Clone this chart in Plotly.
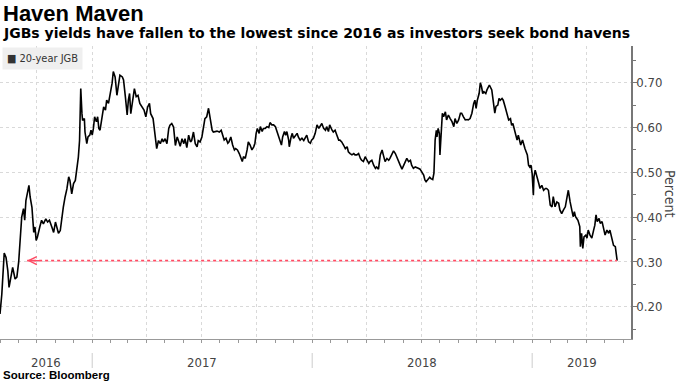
import plotly.graph_objects as go
from datetime import date

# ---------------- data ----------------
dates = [
    "2016-08-01", "2016-08-04", "2016-08-08", "2016-08-11", "2016-08-14", "2016-08-16", "2016-08-20",
    "2016-08-22", "2016-08-26", "2016-08-29", "2016-09-01", "2016-09-04", "2016-09-06", "2016-09-09",
    "2016-09-11", "2016-09-13", "2016-09-16", "2016-09-18", "2016-09-20", "2016-09-23", "2016-09-26",
    "2016-09-28", "2016-09-30", "2016-10-02", "2016-10-06", "2016-10-09", "2016-10-12", "2016-10-16",
    "2016-10-19", "2016-10-22", "2016-10-26", "2016-10-29", "2016-11-01", "2016-11-03", "2016-11-06",
    "2016-11-09", "2016-11-12", "2016-11-14", "2016-11-17", "2016-11-20", "2016-11-23", "2016-11-25",
    "2016-11-28", "2016-12-01", "2016-12-04", "2016-12-07", "2016-12-09", "2016-12-11", "2016-12-12",
    "2016-12-13", "2016-12-15", "2016-12-16", "2016-12-19", "2016-12-20", "2016-12-23", "2016-12-25",
    "2016-12-28", "2016-12-30", "2017-01-01", "2017-01-03", "2017-01-05", "2017-01-08", "2017-01-10",
    "2017-01-12", "2017-01-14", "2017-01-17", "2017-01-20", "2017-01-23", "2017-01-25", "2017-01-28",
    "2017-01-31", "2017-02-03", "2017-02-05", "2017-02-08", "2017-02-11", "2017-02-14", "2017-02-16",
    "2017-02-20", "2017-02-22", "2017-02-25", "2017-02-28", "2017-03-02", "2017-03-04", "2017-03-06",
    "2017-03-10", "2017-03-12", "2017-03-15", "2017-03-18", "2017-03-21", "2017-03-24", "2017-03-28",
    "2017-03-31", "2017-04-03", "2017-04-06", "2017-04-08", "2017-04-12", "2017-04-14", "2017-04-17",
    "2017-04-18", "2017-04-21", "2017-04-24", "2017-04-27", "2017-04-29", "2017-05-02", "2017-05-05",
    "2017-05-08", "2017-05-10", "2017-05-13", "2017-05-16", "2017-05-19", "2017-05-22", "2017-05-24",
    "2017-05-27", "2017-05-30", "2017-06-02", "2017-06-04", "2017-06-07", "2017-06-10", "2017-06-13",
    "2017-06-15", "2017-06-18", "2017-06-21", "2017-06-24", "2017-06-26", "2017-06-29", "2017-07-02",
    "2017-07-05", "2017-07-07", "2017-07-10", "2017-07-13", "2017-07-19", "2017-07-21", "2017-07-27",
    "2017-07-31", "2017-08-03", "2017-08-06", "2017-08-08", "2017-08-11", "2017-08-14", "2017-08-16",
    "2017-08-19", "2017-08-22", "2017-08-25", "2017-08-27", "2017-08-30", "2017-09-02", "2017-09-05",
    "2017-09-07", "2017-09-09", "2017-09-12", "2017-09-15", "2017-09-17", "2017-09-20", "2017-09-23",
    "2017-09-26", "2017-09-28", "2017-09-30", "2017-10-02", "2017-10-05", "2017-10-07", "2017-10-10",
    "2017-10-12", "2017-10-15", "2017-10-18", "2017-10-21", "2017-10-23", "2017-10-26", "2017-10-29",
    "2017-11-01", "2017-11-03", "2017-11-06", "2017-11-09", "2017-11-11", "2017-11-13", "2017-11-16",
    "2017-11-18", "2017-11-20", "2017-11-23", "2017-11-24", "2017-11-27", "2017-11-29", "2017-12-01",
    "2017-12-04", "2017-12-07", "2017-12-09", "2017-12-12", "2017-12-15", "2017-12-18", "2017-12-20",
    "2017-12-23", "2017-12-26", "2017-12-29", "2017-12-31", "2018-01-03", "2018-01-06", "2018-01-09",
    "2018-01-12", "2018-01-14", "2018-01-17", "2018-01-20", "2018-01-23", "2018-01-25", "2018-01-28",
    "2018-01-30", "2018-02-01", "2018-02-03", "2018-02-05", "2018-02-08", "2018-02-11", "2018-02-14",
    "2018-02-16", "2018-02-19", "2018-02-22", "2018-02-25", "2018-02-28", "2018-03-02", "2018-03-05",
    "2018-03-08", "2018-03-11", "2018-03-13", "2018-03-16", "2018-03-19", "2018-03-22", "2018-03-24",
    "2018-03-27", "2018-03-30", "2018-04-02", "2018-04-05", "2018-04-07", "2018-04-10", "2018-04-13",
    "2018-04-16", "2018-04-18", "2018-04-21", "2018-04-24", "2018-04-27", "2018-04-29", "2018-05-02",
    "2018-05-05", "2018-05-08", "2018-05-10", "2018-05-13", "2018-05-16", "2018-05-19", "2018-05-22",
    "2018-05-24", "2018-05-27", "2018-05-30", "2018-06-02", "2018-06-04", "2018-06-07", "2018-06-10",
    "2018-06-13", "2018-06-15", "2018-06-18", "2018-06-21", "2018-06-24", "2018-06-26", "2018-06-29",
    "2018-07-02", "2018-07-05", "2018-07-07", "2018-07-09", "2018-07-12", "2018-07-15", "2018-07-17",
    "2018-07-20", "2018-07-22", "2018-07-24", "2018-07-26", "2018-07-27", "2018-07-29", "2018-07-31",
    "2018-08-01", "2018-08-03", "2018-08-05", "2018-08-07", "2018-08-10", "2018-08-12", "2018-08-15",
    "2018-08-18", "2018-08-21", "2018-08-24", "2018-08-26", "2018-08-29", "2018-09-01", "2018-09-04",
    "2018-09-06", "2018-09-09", "2018-09-12", "2018-09-15", "2018-09-17", "2018-09-20", "2018-09-23",
    "2018-09-26", "2018-09-28", "2018-09-30", "2018-10-02", "2018-10-05", "2018-10-07", "2018-10-09",
    "2018-10-11", "2018-10-13", "2018-10-16", "2018-10-18", "2018-10-22", "2018-10-26", "2018-10-29",
    "2018-10-31", "2018-11-02", "2018-11-05", "2018-11-07", "2018-11-09", "2018-11-12", "2018-11-14",
    "2018-11-17", "2018-11-19", "2018-11-21", "2018-11-23", "2018-11-26", "2018-11-28", "2018-11-30",
    "2018-12-02", "2018-12-04", "2018-12-07", "2018-12-09", "2018-12-11", "2018-12-13", "2018-12-16",
    "2018-12-18", "2018-12-20", "2018-12-22", "2018-12-24", "2018-12-26", "2018-12-28", "2018-12-30",
    "2019-01-01", "2019-01-03", "2019-01-04", "2019-01-06", "2019-01-09", "2019-01-12", "2019-01-14",
    "2019-01-17", "2019-01-20", "2019-01-23", "2019-01-25", "2019-01-28", "2019-01-31", "2019-02-03",
    "2019-02-05", "2019-02-08", "2019-02-11", "2019-02-14", "2019-02-16", "2019-02-19", "2019-02-22",
    "2019-02-25", "2019-02-28", "2019-03-02", "2019-03-05", "2019-03-08", "2019-03-10", "2019-03-12",
    "2019-03-14", "2019-03-16", "2019-03-18", "2019-03-21", "2019-03-22", "2019-03-24", "2019-03-26",
    "2019-03-28", "2019-03-31", "2019-04-02", "2019-04-04", "2019-04-07", "2019-04-10", "2019-04-13",
    "2019-04-15", "2019-04-17", "2019-04-19", "2019-04-22", "2019-04-24", "2019-04-27", "2019-04-29",
    "2019-05-02", "2019-05-05", "2019-05-08", "2019-05-10", "2019-05-13", "2019-05-16", "2019-05-19",
    "2019-05-22",
]

yields = [
    0.184, 0.228, 0.320, 0.310, 0.280, 0.243, 0.273,
    0.288, 0.262, 0.266, 0.300, 0.348, 0.400, 0.419,
    0.393, 0.437, 0.460, 0.471, 0.445, 0.422, 0.366,
    0.378, 0.348, 0.355, 0.378, 0.393, 0.385, 0.396,
    0.389, 0.393, 0.378, 0.366, 0.389, 0.378, 0.364,
    0.370, 0.404, 0.422, 0.445, 0.463, 0.490, 0.482,
    0.452, 0.475, 0.482, 0.512, 0.534, 0.571, 0.646,
    0.687, 0.631, 0.616, 0.620, 0.590, 0.564, 0.579,
    0.583, 0.594, 0.583, 0.598, 0.624, 0.613, 0.624,
    0.598, 0.594, 0.616, 0.646, 0.639, 0.661, 0.654,
    0.676, 0.699, 0.725, 0.713, 0.672, 0.699, 0.717,
    0.713, 0.706, 0.669, 0.628, 0.661, 0.676, 0.631,
    0.676, 0.687, 0.669, 0.672, 0.654, 0.646, 0.639,
    0.624, 0.646, 0.654, 0.631, 0.620, 0.594, 0.571,
    0.553, 0.571, 0.564, 0.575, 0.568, 0.575, 0.564,
    0.598, 0.605, 0.609, 0.601, 0.560, 0.579, 0.571,
    0.558, 0.575, 0.564, 0.575, 0.555, 0.583, 0.568,
    0.571, 0.590, 0.564, 0.557, 0.571, 0.568, 0.579,
    0.601, 0.620, 0.624, 0.643, 0.594, 0.590, 0.592,
    0.590, 0.594, 0.583, 0.572, 0.576, 0.565, 0.568,
    0.579, 0.561, 0.550, 0.553, 0.550, 0.542, 0.531,
    0.524, 0.535, 0.531, 0.550, 0.568, 0.561, 0.550,
    0.557, 0.565, 0.587, 0.598, 0.587, 0.602, 0.591,
    0.598, 0.598, 0.602, 0.600, 0.611, 0.606, 0.606,
    0.602, 0.594, 0.583, 0.572, 0.561, 0.579, 0.591,
    0.583, 0.591, 0.572, 0.557, 0.579, 0.587, 0.576,
    0.583, 0.587, 0.579, 0.572, 0.576, 0.571, 0.576,
    0.583, 0.568, 0.565, 0.572, 0.576, 0.587, 0.606,
    0.598, 0.602, 0.609, 0.598, 0.594, 0.602, 0.591,
    0.606, 0.598, 0.594, 0.590, 0.594, 0.583, 0.572,
    0.572, 0.568, 0.561, 0.553, 0.557, 0.546, 0.542,
    0.539, 0.542, 0.539, 0.539, 0.542, 0.531, 0.527,
    0.524, 0.535, 0.527, 0.520, 0.524, 0.527, 0.516,
    0.509, 0.512, 0.507, 0.539, 0.550, 0.539, 0.524,
    0.531, 0.527, 0.531, 0.539, 0.548, 0.542, 0.531,
    0.524, 0.516, 0.507, 0.516, 0.524, 0.531, 0.524,
    0.527, 0.516, 0.509, 0.512, 0.509, 0.509, 0.507,
    0.501, 0.494, 0.483, 0.479, 0.484, 0.489, 0.486,
    0.484, 0.498, 0.572, 0.594, 0.579, 0.598, 0.587,
    0.539, 0.606, 0.632, 0.624, 0.635, 0.617, 0.628,
    0.620, 0.613, 0.602, 0.620, 0.609, 0.617, 0.632,
    0.632, 0.624, 0.617, 0.618, 0.617, 0.620, 0.632,
    0.654, 0.661, 0.643, 0.661, 0.676, 0.700, 0.691,
    0.676, 0.680, 0.676, 0.684, 0.695, 0.684, 0.654,
    0.632, 0.647, 0.650, 0.665, 0.661, 0.665, 0.661,
    0.647, 0.635, 0.628, 0.617, 0.620, 0.605, 0.609,
    0.598, 0.587, 0.572, 0.583, 0.568, 0.561, 0.572,
    0.561, 0.553, 0.546, 0.539, 0.516, 0.512, 0.516,
    0.497, 0.449, 0.490, 0.505, 0.486, 0.475, 0.464,
    0.471, 0.460, 0.464, 0.464, 0.460, 0.427, 0.423,
    0.446, 0.423, 0.434, 0.431, 0.416, 0.408, 0.416,
    0.423, 0.446, 0.460, 0.434, 0.408, 0.401, 0.412,
    0.401, 0.397, 0.393, 0.379, 0.334, 0.364, 0.330,
    0.356, 0.360, 0.353, 0.371, 0.360, 0.353, 0.371,
    0.382, 0.405, 0.390, 0.397, 0.386, 0.390, 0.375,
    0.360, 0.371, 0.364, 0.371, 0.356, 0.337, 0.334,
    0.303,
]

series_name = "20-year JGB"
year_labels = ["2016", "2017", "2018", "2019"]
y_tickvals = [0.20, 0.30, 0.40, 0.50, 0.60, 0.70]
quarter_starts = ["2016-10-01", "2017-01-01", "2017-04-01", "2017-07-01", "2017-10-01",
                  "2018-01-01", "2018-04-01", "2018-07-01", "2018-10-01", "2019-01-01",
                  "2019-04-01"]
x_range = ["2016-08-01", "2019-06-14"]
y_range = [0.128, 0.782]
arrow_target_date = "2016-09-15"

title_text = "Haven Maven"
subtitle_text = "JGBs yields have fallen to the lowest since 2016 as investors seek bond havens"
source_text = "Source: Bloomberg"
y_title = "Percent"

# ---------------- styling ----------------
W, H = 680, 382
M_L, M_R, M_T, M_B = 0, 49, 46, 43
PLOT_H = H - M_T - M_B

def py(pixel_y):
    """pixel row (from top of page) -> paper y"""
    return (H - M_B - pixel_y) / PLOT_H

BOLD = "Liberation Sans, Arial, sans-serif"
WIDEBOLD = "DejaVu Sans, Liberation Sans, sans-serif"
NARROW = "Liberation Sans Narrow, DejaVu Sans Condensed, Liberation Sans, sans-serif"
RED = "#ff4b63"

fig = go.Figure()
fig.add_trace(go.Scatter(x=dates, y=yields, mode="lines", name=series_name,
                         line=dict(color="#000000", width=1.6), showlegend=False,
                         hoverinfo="skip"))
fig.add_trace(go.Scatter(x=[arrow_target_date, dates[-1]], y=[yields[-1], yields[-1]],
                         mode="lines", line=dict(color=RED, width=1.6, dash="dot"),
                         showlegend=False, hoverinfo="skip"))

annotations = []
# arrow head on the red line
annotations.append(dict(x=arrow_target_date, y=yields[-1], xref="x", yref="y", ax=14, ay=0,
                        text="", showarrow=True, arrowhead=5, arrowsize=1.3, arrowwidth=1.2,
                        arrowcolor=RED))

# year labels centred on visible part of each year
xr0 = date.fromisoformat(x_range[0])
xr1 = date.fromisoformat(x_range[1])
for lab in year_labels:
    yr = int(lab)
    s = max(xr0, date(yr, 1, 1))
    e = min(xr1, date(yr + 1, 1, 1))
    mid = s + (e - s) / 2
    annotations.append(dict(x=mid.isoformat(), y=py(362), xref="x", yref="paper",
                            text=lab, showarrow=False, xanchor="center", yanchor="middle",
                            font=dict(family=NARROW, size=13, color="#444444")))

# titles / source
annotations.append(dict(x=0.002, y=py(13), xref="paper", yref="paper", text="<b>%s</b>" % title_text,
                        showarrow=False, xanchor="left", yanchor="middle",
                        font=dict(family=BOLD, size=22, color="#000000")))
annotations.append(dict(x=0.002, y=py(33), xref="paper", yref="paper", text="<b>%s</b>" % subtitle_text,
                        showarrow=False, xanchor="left", yanchor="middle",
                        font=dict(family=WIDEBOLD, size=14, color="#000000")))
annotations.append(dict(x=0.002, y=py(375), xref="paper", yref="paper", text="<b>%s</b>" % source_text,
                        showarrow=False, xanchor="left", yanchor="middle",
                        font=dict(family=BOLD, size=11.5, color="#000000")))
# legend box
annotations.append(dict(x=0.003, y=py(47), xref="paper", yref="paper",
                        text="■ %s" % series_name, showarrow=False, xanchor="left", yanchor="top",
                        bgcolor="#efefef", borderpad=4,
                        font=dict(family=NARROW, size=11, color="#333333")))
# axis title (reads top-to-bottom)
annotations.append(dict(x=(670 - M_L) / (W - M_L - M_R), y=py(193), xref="paper", yref="paper",
                        text=y_title, textangle=90, showarrow=False,
                        xanchor="center", yanchor="middle",
                        font=dict(family=NARROW, size=14, color="#444444")))

shapes = []
for lab in year_labels[1:]:
    shapes.append(dict(type="line", xref="x", yref="paper",
                       x0=date(int(lab), 1, 1).isoformat(), x1=date(int(lab), 1, 1).isoformat(),
                       y0=py(353), y1=py(368), line=dict(color="#cccccc", width=1)))

fig.update_layout(
    width=W, height=H,
    margin=dict(l=M_L, r=M_R, t=M_T, b=M_B, pad=0),
    paper_bgcolor="#ffffff", plot_bgcolor="#ffffff",
    showlegend=False,
    annotations=annotations,
    shapes=shapes,
    xaxis=dict(type="date", range=x_range, tickvals=quarter_starts, showticklabels=False,
               ticks="outside", ticklen=3, tickcolor="#999999", tickwidth=1,
               showline=True, linecolor="#999999", linewidth=1,
               showgrid=True, gridcolor="#d9d9d9", griddash="dot", gridwidth=1,
               zeroline=False, fixedrange=True,
               minor=dict(dtick="M1", tick0="2016-08-01", ticks="outside", ticklen=3,
                          tickcolor="#999999", showgrid=False)),
    yaxis=dict(side="right", range=y_range, tickvals=y_tickvals, tickformat=".2f",
               ticks="outside", ticklen=4, tickcolor="#777777", tickwidth=1,
               showline=True, linecolor="#777777", linewidth=1.5,
               showgrid=True, gridcolor="#d9d9d9", griddash="dot", gridwidth=1,
               zeroline=False, fixedrange=True, ticklabelstandoff=-3,
               tickfont=dict(family=NARROW, size=13, color="#444444"),
               minor=dict(dtick=0.05, tick0=0, ticks="outside", ticklen=3,
                          tickcolor="#777777", showgrid=False)),
)

fig.write_html("out.html", config={"displayModeBar": False})

with open("out.html", "r", encoding="utf-8") as f:
    html = f.read()
html = html.replace("<head>", "<head><style>html,body{margin:0;padding:0;overflow:hidden;}</style>", 1)
with open("out.html", "w", encoding="utf-8") as f:
    f.write(html)
